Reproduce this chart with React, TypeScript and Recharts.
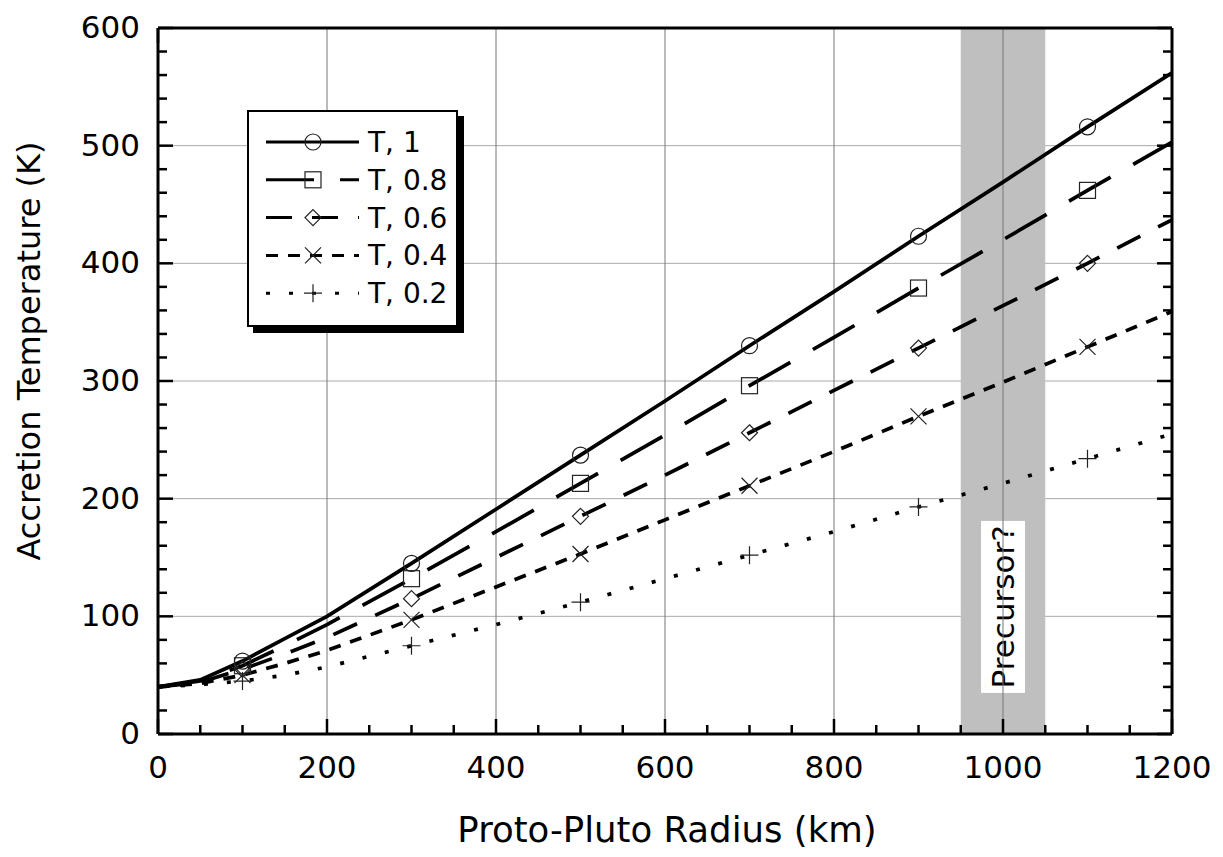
import React from "react";
import {
  LineChart,
  Line,
  XAxis,
  YAxis,
  CartesianGrid,
  ReferenceArea,
  ReferenceLine,
  Legend,
} from "recharts";

// radius (km) and accretion temperature (K) per efficiency
const RADIUS = [0, 50, 100, 150, 200, 300, 400, 500, 600, 700, 800, 900, 1000, 1100, 1200];
const T_10 = [40, 46, 62, 81, 100, 145, 191, 237, 283, 330, 376, 423, 469, 516, 562];
const T_08 = [40, 45, 58, 75, 93, 132, 172, 213, 254, 296, 337, 379, 420, 462, 503];
const T_06 = [40, 44, 55, 68, 82, 115, 150, 185, 220, 256, 292, 328, 364, 400, 437];
const T_04 = [40, 43, 50, 60, 71, 97, 125, 153, 182, 211, 240, 270, 299, 329, 359];
const T_02 = [40, 42, 45, 50, 57, 75, 93, 112, 132, 152, 172, 193, 213, 234, 255];

const MARKER_RADII = [100, 300, 500, 700, 900, 1100];

const X_MAJOR = [0, 200, 400, 600, 800, 1000, 1200];
const Y_MAJOR = [0, 100, 200, 300, 400, 500, 600];
const X_GRID = [200, 400, 600, 800, 1000];
const Y_GRID = [100, 200, 300, 400, 500];
const X_TICKS = Array.from({ length: 25 }, (_, i) => i * 50);
const Y_TICKS = Array.from({ length: 31 }, (_, i) => i * 20);

const BAND = [950, 1050];
const BAND_LABEL = "Precursor?";

const FONT = "'DejaVu Sans', sans-serif";

type MarkerKind = "circle" | "square" | "diamond" | "cross" | "plus";

const SERIES: { key: string; name: string; dash?: string; marker: MarkerKind }[] = [
  { key: "t10", name: "T, 1", marker: "circle" },
  { key: "t08", name: "T, 0.8", dash: "48 26", marker: "square" },
  { key: "t06", name: "T, 0.6", dash: "26 20", marker: "diamond" },
  { key: "t04", name: "T, 0.4", dash: "12 10", marker: "cross" },
  { key: "t02", name: "T, 0.2", dash: "4 19", marker: "plus" },
];

const data = RADIUS.map((r, i) => ({
  r,
  t10: T_10[i],
  t08: T_08[i],
  t06: T_06[i],
  t04: T_04[i],
  t02: T_02[i],
}));

function Marker({ kind, cx, cy }: { kind: MarkerKind; cx: number; cy: number }) {
  const p = { fill: "none", stroke: "#222", strokeWidth: 1.2 };
  switch (kind) {
    case "circle":
      return <circle cx={cx} cy={cy} r={8} {...p} />;
    case "square":
      return <rect x={cx - 8} y={cy - 8} width={16} height={16} {...p} />;
    case "diamond":
      return <path d={`M${cx},${cy - 8}L${cx + 8},${cy}L${cx},${cy + 8}L${cx - 8},${cy}Z`} {...p} />;
    case "cross":
      return <path d={`M${cx - 8},${cy - 8}L${cx + 8},${cy + 8}M${cx - 8},${cy + 8}L${cx + 8},${cy - 8}`} {...p} />;
    default:
      return <path d={`M${cx - 9},${cy}L${cx + 9},${cy}M${cx},${cy - 9}L${cx},${cy + 9}`} {...p} />;
  }
}

const dotFor = (kind: MarkerKind) => (props: any) => {
  const { cx, cy, payload, index } = props;
  if (!MARKER_RADII.includes(payload.r)) return <g key={`${kind}-${index}`} />;
  return (
    <g key={`${kind}-${index}`}>
      <Marker kind={kind} cx={cx} cy={cy} />
    </g>
  );
};

function BottomTick({ x, y, payload }: any) {
  const major = X_MAJOR.includes(payload.value);
  return (
    <g>
      <line x1={x} x2={x} y1={y} y2={y - (major ? 15 : 9)} stroke="#000" strokeWidth={2.5} />
      {major && (
        <text x={x} y={y + 44} textAnchor="middle" fontSize={31} fontFamily={FONT} fill="#000">
          {payload.value}
        </text>
      )}
    </g>
  );
}

function TopTick({ x, y, payload }: any) {
  const major = X_MAJOR.includes(payload.value);
  return <line x1={x} x2={x} y1={y} y2={y + (major ? 15 : 9)} stroke="#000" strokeWidth={2.5} />;
}

function LeftTick({ x, y, payload }: any) {
  const major = Y_MAJOR.includes(payload.value);
  return (
    <g>
      <line x1={x} x2={x + (major ? 15 : 9)} y1={y} y2={y} stroke="#000" strokeWidth={2.5} />
      {major && (
        <text x={x - 18} y={y + 10} textAnchor="end" fontSize={31} fontFamily={FONT} fill="#000">
          {payload.value}
        </text>
      )}
    </g>
  );
}

function RightTick({ x, y, payload }: any) {
  const major = Y_MAJOR.includes(payload.value);
  return <line x1={x} x2={x - (major ? 15 : 9)} y1={y} y2={y} stroke="#000" strokeWidth={2.5} />;
}

function XTitle({ viewBox }: any) {
  return (
    <text x={viewBox.x + viewBox.width / 2 + 2} y={viewBox.y + 108} textAnchor="middle" fontSize={35.5} fontFamily={FONT} fill="#000">
      Proto-Pluto Radius (km)
    </text>
  );
}

function YTitle({ viewBox }: any) {
  const cx = 21;
  const cy = viewBox.y + viewBox.height / 2 - 30;
  return (
    <text
      x={cx}
      y={cy}
      transform={`rotate(-90 ${cx} ${cy})`}
      textAnchor="middle"
      dominantBaseline="central"
      fontSize={32}
      fontFamily={FONT}
      fill="#000"
    >
      Accretion Temperature (K)
    </text>
  );
}

function BandLabel({ viewBox }: any) {
  const cx = viewBox.x + viewBox.width / 2;
  const cy = viewBox.y + viewBox.height * 0.82;
  return (
    <g>
      <rect x={cx - 22} y={cy - 86} width={44} height={172} fill="#fff" />
      <text
        x={cx}
        y={cy}
        transform={`rotate(-90 ${cx} ${cy})`}
        textAnchor="middle"
        dominantBaseline="central"
        fontSize={31}
        fontFamily={FONT}
        fill="#000"
      >
        {BAND_LABEL}
      </text>
    </g>
  );
}

function LegendBox() {
  return (
    <svg width={218} height={224} style={{ display: "block" }}>
      <rect x={6} y={6} width={211} height={217} fill="#000" />
      <rect x={1} y={1} width={209} height={215} fill="#fff" stroke="#000" strokeWidth={2} />
      {SERIES.map((s, i) => {
        const y = 32 + i * 37.8;
        return (
          <g key={s.key}>
            <line x1={19} x2={112} y1={y} y2={y} stroke="#000" strokeWidth={3} strokeDasharray={s.dash} />
            <Marker kind={s.marker} cx={66} cy={y} />
            <text x={121} y={y + 10} fontSize={28} fontFamily={FONT} fill="#000">
              {s.name}
            </text>
          </g>
        );
      })}
    </svg>
  );
}

export default function App() {
  return (
    <div style={{ width: 1207, height: 841 }}>
      <LineChart width={1207} height={841} data={data} margin={{ top: 0, right: 0, bottom: 0, left: 0 }}>
        <CartesianGrid
          xAxisId="bottom"
          yAxisId="left"
          vertical={false}
          horizontalValues={Y_GRID}
          stroke="#aaa"
          strokeWidth={1}
        />
        <CartesianGrid
          xAxisId="bottom"
          yAxisId="left"
          horizontal={false}
          verticalValues={X_GRID}
          stroke="#777"
          strokeWidth={1}
        />
        <XAxis
          xAxisId="bottom"
          dataKey="r"
          type="number"
          domain={[0, 1200]}
          allowDataOverflow
          ticks={X_TICKS}
          interval={0}
          tickSize={0}
          tickMargin={0}
          tickLine={false}
          tick={(p: any) => <BottomTick {...p} />}
          axisLine={{ stroke: "#000", strokeWidth: 3 }}
          height={115}
          label={(p: any) => <XTitle {...p} />}
        />
        <XAxis
          xAxisId="top"
          orientation="top"
          type="number"
          domain={[0, 1200]}
          allowDataOverflow
          ticks={X_TICKS}
          interval={0}
          tickSize={0}
          tickMargin={0}
          tickLine={false}
          tick={(p: any) => <TopTick {...p} />}
          axisLine={{ stroke: "#000", strokeWidth: 3 }}
          height={20}
        />
        <YAxis
          yAxisId="left"
          type="number"
          domain={[0, 600]}
          allowDataOverflow
          ticks={Y_TICKS}
          interval={0}
          tickSize={0}
          tickMargin={0}
          tickLine={false}
          tick={(p: any) => <LeftTick {...p} />}
          axisLine={{ stroke: "#000", strokeWidth: 3 }}
          width={150}
          label={(p: any) => <YTitle {...p} />}
        />
        <YAxis
          yAxisId="right"
          orientation="right"
          type="number"
          domain={[0, 600]}
          allowDataOverflow
          ticks={Y_TICKS}
          interval={0}
          tickSize={0}
          tickMargin={0}
          tickLine={false}
          tick={(p: any) => <RightTick {...p} />}
          axisLine={{ stroke: "#000", strokeWidth: 3 }}
          width={43}
        />
        <ReferenceArea
          xAxisId="bottom"
          yAxisId="left"
          x1={BAND[0]}
          x2={BAND[1]}
          fill="#bfbfbf"
          fillOpacity={1}
          stroke="none"
          label={(p: any) => <BandLabel {...p} />}
        />
        <ReferenceLine xAxisId="bottom" yAxisId="left" x={1000} stroke="#777" strokeWidth={1} />
        {SERIES.map((s) => (
          <Line
            key={s.key}
            xAxisId="bottom"
            yAxisId="left"
            type="linear"
            dataKey={s.key}
            name={s.name}
            stroke="#000"
            strokeWidth={3.7}
            strokeDasharray={s.dash}
            dot={dotFor(s.marker)}
            activeDot={false}
            isAnimationActive={false}
          />
        ))}
        <Legend
          layout="vertical"
          align="center"
          verticalAlign="middle"
          content={() => <LegendBox />}
          wrapperStyle={{ left: 239, top: 102, width: 218, height: 224 }}
        />
      </LineChart>
    </div>
  );
}
